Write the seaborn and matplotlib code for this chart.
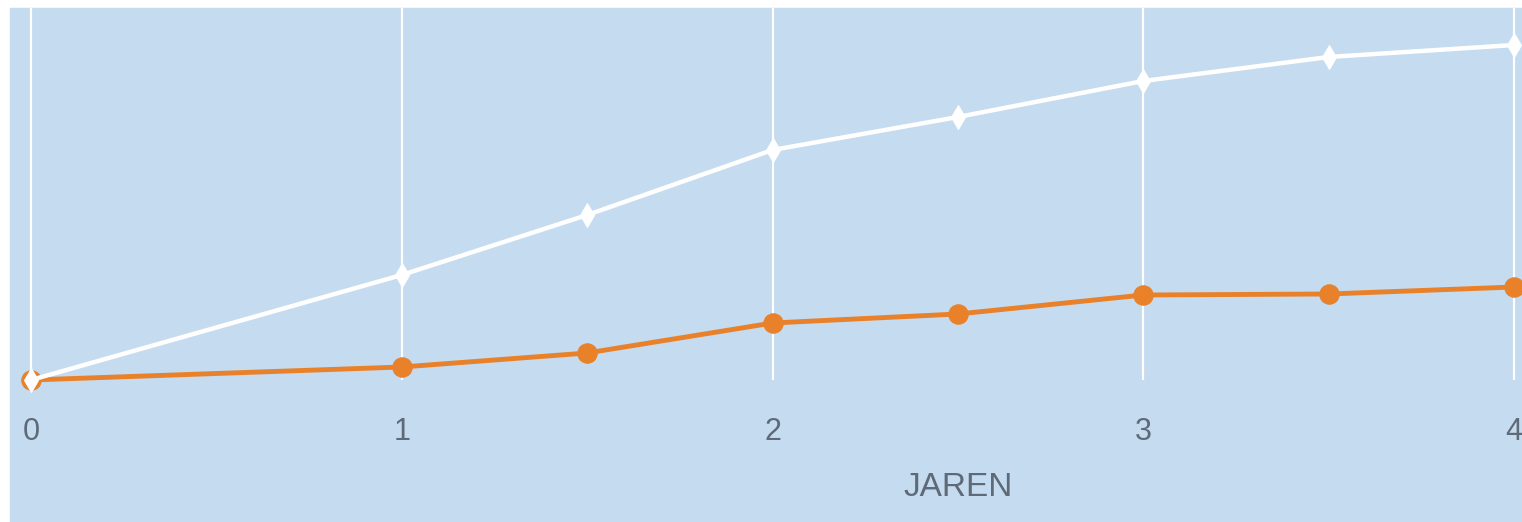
import numpy as np
import matplotlib
matplotlib.use('Agg')
import matplotlib.pyplot as plt
import seaborn as sns
import pandas as pd

# jaren op de x-as (halve stappen)
jaren = [0, 1, 1.5, 2, 2.5, 3, 3.5, 4]
# witte reeks (bovenste lijn)
wit = [0, 105, 165, 230, 263, 299, 323, 335]
# oranje reeks (onderste lijn)
oranje = [0, 13, 27, 57, 66, 85, 86, 93]
x_ticks = [0, 1, 2, 3, 4]
x_label = 'JAREN'

bg = '#C5DBF0'
orange = '#E8812A'
txt = '#5E6A78'

sns.set_style('white', {'axes.facecolor': bg})
plt.rcParams['font.family'] = ['Liberation Sans Narrow', 'Liberation Sans', 'DejaVu Sans']

df = pd.DataFrame({'jaar': jaren * 2,
                   'waarde': wit + oranje,
                   'reeks': ['wit'] * len(jaren) + ['oranje'] * len(jaren)})

fig = plt.figure(figsize=(15.22, 5.22), dpi=100)
fig.patch.set_facecolor('white')
# blauwe achtergrond van het hele paneel
fig.patches.append(plt.Rectangle((10 / 1522, 0), 1, (522 - 8) / 522,
                                 transform=fig.transFigure, color=bg, zorder=-5))

ax = fig.add_axes([10 / 1522, (522 - 380) / 522, 1512 / 1522, (380 - 8) / 522])
ax.set_facecolor(bg)
ax.set_zorder(2)

sns.lineplot(data=df[df.reeks == 'oranje'], x='jaar', y='waarde', ax=ax,
             color=orange, linewidth=3.5, marker='o', markersize=14,
             markeredgecolor=orange, clip_on=False, zorder=3)
sns.lineplot(data=df[df.reeks == 'wit'], x='jaar', y='waarde', ax=ax,
             color='white', linewidth=3.2, marker='d', markersize=12,
             markeredgecolor='white', clip_on=False, zorder=4)

ax.set_xlim((10 - 31) / 370.75, (1522 - 31) / 370.75)
ax.set_ylim(0, 372)
ax.set_xticks(x_ticks)
ax.set_xticklabels([str(t) for t in x_ticks])
ax.set_yticks([])
ax.tick_params(axis='x', length=0, pad=27, labelsize=22, labelcolor=txt)
ax.grid(axis='x', color='white', linewidth=1.6)
ax.set_axisbelow(True)
for s in ax.spines.values():
    s.set_visible(False)
ax.set_xlabel('')
ax.set_ylabel('')

fig.text(958 / 1522, 1 - 487 / 522, x_label, ha='center', va='center',
         fontsize=24, color=txt)

plt.savefig('out.png', dpi=100, facecolor='white')
